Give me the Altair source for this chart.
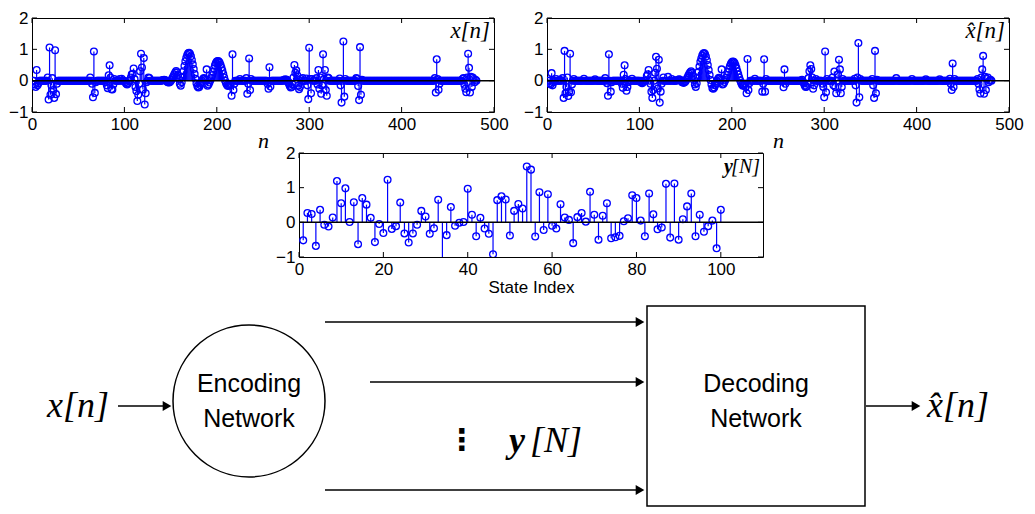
import math
import numpy as np
import pandas as pd
import altair as alt

SANS = "Liberation Sans"
SERIF = "Liberation Serif"
BLUE = "#0000ff"

N_SAMPLES = 481

# ---- x[n]: isolated samples (n, value); all other samples ~0
x_spikes = [
    (3, -0.12), (4, -0.20), (5, 0.34), (6, -0.15), (7, -0.08),
    (17, 0.10), (18, -0.60), (19, 1.06), (20, -0.45), (21, -0.15), (22, 0.08), (23, -0.30),
    (24, -0.55), (25, 0.97), (26, -0.43), (27, -0.10),
    (63, 0.10), (65, -0.10), (66, -0.53), (67, 0.93), (68, -0.39), (69, -0.05),
    (80, -0.05), (81, -0.15), (82, -0.24), (83, 0.17), (84, 0.49), (85, 0.10), (86, -0.27),
    (87, -0.28), (88, -0.12), (89, 0.05),
    (95, 0.05), (97, 0.06), (101, -0.05), (102, -0.10), (103, -0.12), (104, -0.08), (105, -0.02),
    (107, 0.10), (108, 0.20), (109, 0.22), (110, 0.39), (111, 0.05), (112, -0.20), (113, -0.33),
    (114, -0.65), (115, -0.45), (116, -0.10), (117, 0.30), (118, 0.86), (119, 0.42), (120, -0.28),
    (121, 0.72), (122, -0.76), (123, -0.40), (124, -0.05), (126, 0.10), (127, 0.08),
    (215, -0.15), (216, -0.48), (217, 0.84), (218, -0.30), (219, -0.10), (225, 0.05),
    (232, 0.08), (233, -0.42), (234, -0.10), (235, 0.71), (236, -0.30), (237, 0.05),
    (255, -0.10), (256, -0.26), (257, 0.43), (258, -0.19),
    (272, 0.02), (274, 0.04), (276, 0.03), (277, -0.03), (278, -0.10), (279, -0.17), (280, -0.22),
    (281, -0.20), (282, -0.12), (283, 0.10),
    (284, 0.50), (285, 0.25), (286, 0.33), (287, 0.17), (288, -0.16), (289, -0.27), (290, -0.20),
    (291, 0.05), (293, 0.08),
    (297, 0.07), (298, -0.15), (299, -0.59), (300, 1.05), (301, 0.05), (302, -0.40), (303, 0.05),
    (308, 0.08), (309, -0.12), (310, 0.34), (311, -0.26), (312, 0.10), (313, -0.42), (314, -0.15),
    (315, 0.84), (316, 0.05), (317, 0.34), (318, -0.30), (319, -0.48), (320, 0.10), (321, 0.08),
    (333, 0.07), (334, -0.15), (335, -0.70), (336, 0.00), (337, 1.25), (338, -0.51), (339, 0.05),
    (351, 0.08), (352, 0.05), (353, -0.17), (354, -0.62), (355, 1.07), (356, -0.45), (357, 0.03),
    (436, 0.08), (437, -0.38), (438, 0.68), (439, 0.05), (440, -0.29), (441, -0.10),
    (466, 0.05), (467, 0.08), (468, -0.13), (469, -0.26), (470, -0.37), (471, 0.10), (472, 0.86),
    (473, 0.41), (474, -0.38), (475, 0.12), (476, -0.20), (477, 0.10), (478, 0.05), (479, -0.05),
    (480, 0.03),
]
# smooth section of x[n], samples 140..214
x_bump_start = 140
x_bump_v = [
    0.00, 0.01, 0.02, 0.03, 0.02, 0.00, -0.03, -0.05, -0.06, -0.05,
    -0.02, 0.03, 0.08, 0.14, 0.20, 0.26, 0.31, 0.27, 0.18, 0.05,
    -0.10, -0.16, -0.05, 0.12, 0.30, 0.47, 0.62, 0.73, 0.82, 0.87,
    0.89, 0.86, 0.78, 0.66, 0.52, 0.37, 0.21, 0.06, -0.08, -0.18,
    -0.22, -0.20, -0.14, -0.07, 0.00, 0.05, 0.08, 0.06, 0.02, 0.36,
    -0.16, -0.12, -0.06, 0.01, 0.08, 0.17, 0.28, 0.39, 0.49, 0.56,
    0.61, 0.63, 0.62, 0.58, 0.51, 0.42, 0.32, 0.21, 0.10, 0.00,
    -0.08, -0.14, -0.17, -0.15, -0.10,
]

# ---- reconstructed x^[n]
xh_spikes = [
    (3, -0.08), (4, -0.12), (5, 0.24), (6, -0.15), (7, -0.05), (10, 0.05), (14, 0.03),
    (17, 0.08), (18, -0.55), (19, 0.95), (20, -0.40), (21, -0.20), (22, 0.10), (23, -0.49),
    (24, -0.35), (25, 0.86), (26, -0.37), (27, -0.12), (29, 0.05),
    (40, 0.06), (52, 0.04),
    (63, 0.08), (65, -0.08), (66, -0.48), (67, 0.84), (69, -0.35), (70, -0.05),
    (81, -0.10), (82, -0.23), (83, 0.19), (84, 0.49), (85, 0.05), (86, -0.32), (87, -0.20),
    (88, -0.05), (92, 0.06),
    (101, -0.04), (103, -0.08), (104, -0.05),
    (108, 0.15), (109, 0.20), (110, 0.34), (112, -0.10), (113, -0.35), (114, -0.55), (115, -0.30),
    (117, 0.25), (118, 0.76), (119, 0.38), (120, -0.25), (121, 0.67), (122, -0.70), (123, -0.35),
    (124, -0.10), (126, 0.10), (131, 0.12), (135, 0.05),
    (215, -0.20), (216, -0.40), (217, 0.69), (218, -0.30), (219, -0.08), (225, 0.06),
    (233, -0.35), (234, -0.10), (235, 0.68), (236, -0.35), (237, 0.05),
    (256, -0.21), (257, 0.36), (258, -0.10),
    (276, 0.03), (277, -0.03), (278, -0.09), (279, -0.16), (280, -0.20), (281, -0.19), (282, -0.10),
    (283, 0.08),
    (284, 0.30), (285, 0.49), (286, 0.37), (287, 0.10), (288, -0.26), (289, -0.15), (291, 0.05),
    (298, -0.10), (299, -0.20), (300, -0.53), (301, 0.93), (302, -0.37), (303, 0.05),
    (309, 0.10), (310, -0.15), (311, 0.29), (312, -0.20), (313, -0.40), (315, 0.20), (316, 0.67),
    (317, 0.36), (318, -0.40), (319, -0.20), (320, 0.05),
    (333, 0.06), (334, -0.15), (335, -0.70), (336, 0.10), (337, 1.20), (338, -0.53), (339, 0.05),
    (352, 0.05), (353, -0.15), (354, -0.55), (355, 0.95), (356, -0.40), (357, 0.03),
    (378, 0.08), (395, 0.05), (410, 0.04), (425, 0.04),
    (436, 0.06), (437, -0.10), (438, -0.30), (439, 0.55), (440, -0.20), (441, 0.05),
    (466, 0.05), (467, -0.10), (468, -0.28), (469, -0.41), (470, 0.10), (471, 0.36), (472, 0.79),
    (473, -0.42), (474, 0.12), (475, -0.30), (476, 0.05), (477, 0.10), (478, -0.05), (480, 0.03),
]
xh_bump_start = 140
xh_bump_v = [
    0.00, 0.02, 0.03, 0.04, 0.03, 0.00, -0.04, -0.06, -0.07, -0.05,
    -0.02, 0.04, 0.10, 0.16, 0.22, 0.27, 0.30, 0.25, 0.15, 0.02,
    -0.12, -0.20, -0.08, 0.10, 0.28, 0.45, 0.60, 0.71, 0.80, 0.86,
    0.88, 0.85, 0.77, 0.65, 0.50, 0.34, 0.18, 0.02, -0.12, -0.24,
    -0.26, -0.22, -0.15, -0.08, -0.01, 0.05, 0.09, 0.07, 0.02, 0.36,
    -0.12, -0.10, -0.04, 0.02, 0.09, 0.18, 0.28, 0.38, 0.47, 0.54,
    0.59, 0.61, 0.60, 0.56, 0.49, 0.40, 0.30, 0.20, 0.10, 0.01,
    -0.07, -0.13, -0.16, -0.14, -0.09,
]

# ---- y[N], states 1..100
y_state = [
    -0.52, 0.27, 0.24, -0.68, 0.36, -0.07, -0.12, 0.14, 1.19, 0.55,
    0.98, 0.01, 0.58, -0.63, 0.70, 0.51, 0.13, -0.57, -0.05, -0.31,
    1.23, -0.19, -0.11, 0.57, -0.32, -0.58, -0.32, -0.07, 0.33, 0.17,
    -0.33, -0.17, 0.65, -1.30, -0.37, 0.44, -0.10, -0.01, 0.01, 0.97,
    0.22, -0.40, 0.13, -0.18, -0.33, -0.92, 0.64, 0.75, 0.66, -0.38,
    0.33, 0.53, 0.40, 1.61, 1.52, -0.41, 0.87, -0.22, 0.81, -0.10,
    -0.18, 0.52, 0.14, 0.07, -0.60, 0.15, 0.27, 0.02, 0.88, 0.22,
    -0.50, 0.19, 0.55, -0.46, -0.43, -0.39, 0.03, 0.12, 0.78, 0.70,
    0.05, -0.40, 0.83, 0.23, -0.20, -0.15, 1.11, -0.44, 1.12, -0.50,
    0.09, 0.46, 0.83, -0.40, 0.22, -0.27, -0.11, 0.05, -0.75, 0.36,
]

X_TICKS_TOP = [0, 100, 200, 300, 400, 500]
X_TICKS_MID = [0, 20, 40, 60, 80, 100]
Y_TICKS = [-1, 0, 1, 2]


def build_signal(spikes, bump_start, bump_v):
    v = np.zeros(N_SAMPLES)
    for i, val in enumerate(bump_v):
        v[bump_start - 1 + i] = val
    for n, val in spikes:
        v[n - 1] = val
    return pd.DataFrame({"n": np.arange(1, N_SAMPLES + 1), "v": v, "z": 0.0})


def text_layer(txt, x, y, font, size, style="normal", weight="normal", align="right"):
    return alt.Chart(pd.DataFrame({"t": [txt]})).mark_text(
        font=font, fontSize=size, fontStyle=style, fontWeight=weight,
        align=align, baseline="middle", color="black"
    ).encode(x=alt.value(x), y=alt.value(y), text="t:N")


def stem_panel(df, xmax, xticks, w, h, xtitle, title_font, title_size, title_style,
               title_pad, extra):
    x_axis = alt.Axis(values=xticks, ticks=False, domain=False, grid=False,
                      labelFont=SANS, labelFontSize=17, labelColor="black",
                      labelPadding=4, labelFlush=False, labelOverlap=False,
                      title=xtitle, titleFont=title_font, titleFontSize=title_size,
                      titleFontStyle=title_style, titleFontWeight="normal",
                      titleColor="black", titlePadding=title_pad)
    y_axis = alt.Axis(values=Y_TICKS, ticks=False, domain=False, grid=False,
                      labelFont=SANS, labelFontSize=17, labelColor="black",
                      labelPadding=4, labelFlush=False, title=None)
    x_enc = alt.X("n:Q", scale=alt.Scale(domain=[0, xmax], nice=False, zero=False), axis=x_axis)
    y_enc = alt.Y("v:Q", scale=alt.Scale(domain=[-1, 2], nice=False, zero=False), axis=y_axis)

    stems = alt.Chart(df).mark_rule(color=BLUE, strokeWidth=1.2, clip=True).encode(
        x=x_enc, y=y_enc, y2="z:Q")
    marks = alt.Chart(df).mark_point(shape="circle", filled=False, color=BLUE, size=46,
                                     strokeWidth=1.3, opacity=1, clip=True).encode(x=x_enc, y=y_enc)
    base_df = pd.DataFrame({"n": [0], "n2": [xmax], "v": [0]})
    baseline = alt.Chart(base_df).mark_rule(color="black", strokeWidth=1.5).encode(
        x=x_enc, x2="n2:Q", y=y_enc)
    xt = pd.DataFrame({"n": xticks})
    yt = pd.DataFrame({"v": Y_TICKS})
    tl = 5
    ticks = [
        alt.Chart(xt).mark_rule(color="black").encode(x=x_enc, y=alt.value(h), y2=alt.value(h - tl)),
        alt.Chart(xt).mark_rule(color="black").encode(x=x_enc, y=alt.value(0), y2=alt.value(tl)),
        alt.Chart(yt).mark_rule(color="black").encode(y=y_enc, x=alt.value(0), x2=alt.value(tl)),
        alt.Chart(yt).mark_rule(color="black").encode(y=y_enc, x=alt.value(w), x2=alt.value(w - tl)),
    ]
    return alt.layer(stems, marks, baseline, *ticks, *extra).properties(
        width=w, height=h, view=alt.ViewBackground(stroke="black", strokeWidth=1))


TOP_W, TOP_H = 462, 94
MID_W, MID_H = 464, 104
COL_GAP = 53
MID_OFFSET = 267     # left edge of middle panel relative to left panel
ROW_STEP = 135       # vertical step between stacked rows

x_df = build_signal(x_spikes, x_bump_start, x_bump_v)
xh_df = build_signal(xh_spikes, xh_bump_start, xh_bump_v)
y_df = pd.DataFrame({"n": np.arange(1, len(y_state) + 1), "v": y_state, "z": 0.0})

p_x = stem_panel(x_df, 500, X_TICKS_TOP, TOP_W, TOP_H, "n", SERIF, 22, "italic", -2,
                 [text_layer("x[n]", TOP_W - 4, 13, SERIF, 23, style="italic")])
p_xh = stem_panel(xh_df, 500, X_TICKS_TOP, TOP_W, TOP_H, "n", SERIF, 22, "italic", -2,
                  [text_layer("x\u0302[n]", TOP_W - 4, 13, SERIF, 23, style="italic")])
p_y = stem_panel(y_df, 110, X_TICKS_MID, MID_W, MID_H, "State Index", SANS, 17, "normal", 2,
                 [text_layer("[N]", MID_W - 3, 14, SERIF, 20, style="italic"),
                  text_layer("y", MID_W - 30, 14, SERIF, 20, style="italic", weight="bold")])

spacer = alt.Chart(pd.DataFrame({"s": [0]})).mark_point(opacity=0).encode(
    x=alt.value(0), y=alt.value(0)).properties(
    width=MID_OFFSET, height=MID_H, view=alt.ViewBackground(stroke="transparent"))

# ---- block diagram (layout units)
DIAG_X = [32, 1000]
DIAG_Y = [287, 506]
circle_pos = {"x": [249], "y": [400]}
circle_r = 76
box_pos = {"x": [647], "x2": [865], "y": [305], "y2": [505]}
arrow_x0 = [118, 325, 370, 325, 866]
arrow_tip = [172, 645, 645, 645, 921]
arrow_y = [405, 321, 381, 489, 405]
sans_labels = ["Encoding", "Network", "Decoding", "Network"]
sans_x = [249, 249, 756, 756]
sans_y = [383, 418, 383, 418]
math_labels = ["x[n]", "x\u0302[n]", "[N]"]
math_x = [78, 958, 556]
math_y = [405, 405, 440]
HEAD = 5

dx = alt.X("x:Q", scale=alt.Scale(domain=DIAG_X, nice=False, zero=False), axis=None)
dy = alt.Y("y:Q", scale=alt.Scale(domain=DIAG_Y, nice=False, zero=False, reverse=True), axis=None)

arrows_df = pd.DataFrame({
    "x": arrow_x0,
    "x2": [t - HEAD for t in arrow_tip],
    "y": arrow_y,
})
circle = alt.Chart(pd.DataFrame(circle_pos)).mark_point(
    shape="circle", filled=False, color="black", strokeWidth=1.5, opacity=1,
    size=(2 * circle_r) ** 2).encode(x=dx, y=dy)
box = alt.Chart(pd.DataFrame(box_pos)).mark_rect(
    fillOpacity=0, stroke="black", strokeWidth=1.5).encode(x=dx, x2="x2:Q", y=dy, y2="y2:Q")
shafts = alt.Chart(arrows_df).mark_rule(color="black", strokeWidth=1.5).encode(x=dx, x2="x2:Q", y=dy)
heads = alt.Chart(arrows_df).mark_point(shape="triangle-right", filled=True, color="black",
                                        size=100, opacity=1).encode(
    x=alt.X("x2:Q", scale=alt.Scale(domain=DIAG_X, nice=False, zero=False), axis=None), y=dy)
sans_txt = alt.Chart(pd.DataFrame({"x": sans_x, "y": sans_y, "t": sans_labels})).mark_text(
    font=SANS, fontSize=25, align="center", baseline="middle", color="black").encode(
    x=dx, y=dy, text="t:N")
math_txt = alt.Chart(pd.DataFrame({"x": math_x, "y": math_y, "t": math_labels})).mark_text(
    font=SERIF, fontSize=36, fontStyle="italic", align="center", baseline="middle",
    color="black").encode(x=dx, y=dy, text="t:N")
bold_y = alt.Chart(pd.DataFrame({"x": [517], "y": [440], "t": ["y"]})).mark_text(
    font=SERIF, fontSize=36, fontStyle="italic", fontWeight="bold", align="center",
    baseline="middle", color="black").encode(x=dx, y=dy, text="t:N")
vdots = alt.Chart(pd.DataFrame({"x": [462], "y": [440], "t": ["\u22ee"]})).mark_text(
    font="DejaVu Sans", fontSize=30, fontWeight="bold", align="center", baseline="middle",
    color="black").encode(x=dx, y=dy, text="t:N")

diagram = alt.layer(circle, box, shafts, heads, sans_txt, math_txt, bold_y, vdots).properties(
    width=DIAG_X[1] - DIAG_X[0], height=DIAG_Y[1] - DIAG_Y[0],
    view=alt.ViewBackground(stroke="transparent"))

row1 = alt.hconcat(p_x, p_xh, spacing=COL_GAP, bounds="flush")
row2 = alt.hconcat(spacer, p_y, spacing=0, bounds="flush")
chart = alt.vconcat(row1, row2, diagram, spacing=ROW_STEP, bounds="flush").properties(
    padding=0, background="white")

chart.save("out.html", embed_options={"renderer": "svg", "actions": False})
